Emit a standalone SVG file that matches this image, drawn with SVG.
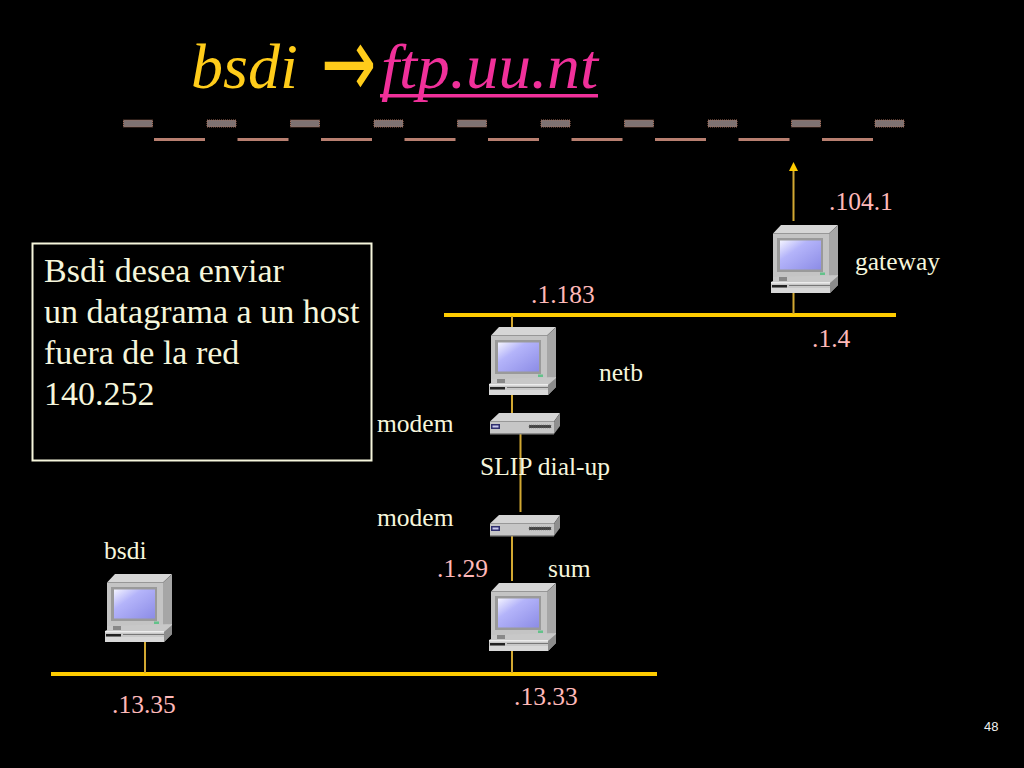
<svg xmlns="http://www.w3.org/2000/svg" xmlns:xlink="http://www.w3.org/1999/xlink" width="1024" height="768" viewBox="0 0 1024 768">
<style>
text{font-family:"Liberation Serif","Times New Roman",serif}
.w{fill:#f6f6dc;font-size:25.500px}
.p{fill:#ffb9b9;font-size:25.500px}
.b{fill:#f6f6dc;font-size:34px}
.net{stroke:#ffcc00;stroke-width:4;fill:none}
.thin{stroke:#d2a832;stroke-width:2;fill:none}
.dg{fill:#7e7272;stroke:#a8705c;stroke-width:1;stroke-dasharray:1 1}
.dl{fill:#b87f70}
</style>
<defs>
<linearGradient id="scr" x1="0" y1="0" x2="1" y2="1"><stop offset="0" stop-color="#f4f4ff"/><stop offset=".35" stop-color="#b4b4fa"/><stop offset="1" stop-color="#8c8ce6"/></linearGradient>
<symbol id="pc" width="68" height="70" overflow="visible">
<polygon points="2,8.5 10,0 67,0 58,8.5" fill="#d6d6d6"/>
<polygon points="58,8.5 67,0 67,50 58,52" fill="#a6a6a6"/>
<rect x="2" y="8.5" width="56" height="44" fill="#c4c4c4"/>
<rect x="6" y="13" width="46" height="34" fill="#9a9a9a"/>
<rect x="9" y="15.500" width="41" height="29" fill="url(#scr)"/>
<rect x="49" y="47.500" width="5" height="2.500" fill="#63c28a"/>
<polygon points="2,52 67,50 67,60 59,68 0,68 0,57 2,56" fill="#c8c8c8"/>
<polygon points="59,58 67,51 67,60 59,68" fill="#8c8c8c"/>
<rect x="0" y="57" width="59" height="1.500" fill="#ececec"/>
<rect x="1" y="60" width="15" height="2.500" fill="#222"/>
<rect x="18" y="60" width="41" height="1" fill="#777"/>
<rect x="0" y="63" width="59" height="5" fill="#d8d8d8"/>
<rect x="8" y="52" width="8" height="4" fill="#888"/>
</symbol>
<symbol id="modem" width="72" height="24" overflow="visible">
<polygon points="1,8.500 10,0 71,0 65,8.500" fill="#d4d4d4"/>
<polygon points="65,8.500 71,0 71,13 65,21" fill="#8f8f8f"/>
<rect x="1" y="8.500" width="64" height="12.500" fill="#c6c6c6"/>
<rect x="1" y="20" width="64" height="1.500" fill="#8a8a8a"/>
<rect x="2" y="11" width="9" height="5" fill="#30306e"/>
<rect x="3.500" y="12.500" width="6" height="2" fill="#c8c8ee"/>
<rect x="40" y="12" width="22" height="3" fill="#444" stroke="#777" stroke-width=".6" stroke-dasharray="1 1"/>
</symbol>
</defs>
<rect width="1024" height="768" fill="#000"/>

<g id="title">
<text x="191" y="88" font-size="64" font-style="italic" fill="#ffcc1a">bsdi</text>
<text transform="translate(321,97) scale(.66,1)" font-size="100" fill="#ffcc1a" style="font-family:'DejaVu Sans',sans-serif">→</text>
<text x="381" y="88" font-size="64" font-style="italic" fill="#f0309a" textLength="217" lengthAdjust="spacingAndGlyphs">ftp.uu.nt</text>
<rect x="380" y="94" width="218" height="3.500" fill="#f0309a"/>
</g>

<g id="wan">
<rect class="dg" x="123.500" y="120" width="29" height="7"/><rect class="dg" x="207" y="120" width="29" height="7"/><rect class="dg" x="290.500" y="120" width="29" height="7"/><rect class="dg" x="374" y="120" width="29" height="7"/><rect class="dg" x="457.500" y="120" width="29" height="7"/><rect class="dg" x="541" y="120" width="29" height="7"/><rect class="dg" x="624.500" y="120" width="29" height="7"/><rect class="dg" x="708" y="120" width="29" height="7"/><rect class="dg" x="791.500" y="120" width="29" height="7"/><rect class="dg" x="875" y="120" width="29" height="7"/>
<rect class="dl" x="154" y="138" width="51" height="3"/><rect class="dl" x="237.500" y="138" width="51" height="3"/><rect class="dl" x="321" y="138" width="51" height="3"/><rect class="dl" x="404.500" y="138" width="51" height="3"/><rect class="dl" x="488" y="138" width="51" height="3"/><rect class="dl" x="571.500" y="138" width="51" height="3"/><rect class="dl" x="655" y="138" width="51" height="3"/><rect class="dl" x="738.500" y="138" width="51" height="3"/><rect class="dl" x="822" y="138" width="51" height="3"/>
</g>

<g id="connectors">
<line class="net" x1="444" y1="315" x2="896" y2="315"/>
<line class="net" x1="51" y1="674" x2="657" y2="674"/>
<line class="thin" x1="793.500" y1="221" x2="793.500" y2="170"/>
<polygon points="793.500,162 789,171 798,171" fill="#ffcc00"/>
<line class="thin" x1="793.500" y1="289" x2="793.500" y2="314"/>
<line class="thin" x1="512" y1="316" x2="512" y2="328"/>
<line class="thin" x1="512" y1="392" x2="512" y2="413"/>
<line class="thin" x1="520.500" y1="434" x2="520.500" y2="512"/>
<line class="thin" x1="512" y1="536" x2="512" y2="581"/>
<line class="thin" x1="512" y1="648" x2="512" y2="673"/>
<line class="thin" x1="145" y1="640" x2="145" y2="673"/>
</g>

<g id="gateway"><use href="#pc" x="771" y="225"/><text class="w" x="855" y="270">gateway</text><text class="p" x="829" y="210">.104.1</text><text class="p" x="812" y="347">.1.4</text></g>
<g id="netb"><use href="#pc" x="489" y="327"/><text class="w" x="599" y="381">netb</text><text class="p" x="531" y="303">.1.183</text></g>
<g id="modem1"><use href="#modem" x="489" y="413"/><text class="w" x="377" y="432">modem</text></g>
<g id="slip"><text class="w" x="480" y="475">SLIP dial-up</text></g>
<g id="modem2"><use href="#modem" x="489" y="515"/><text class="w" x="377" y="526">modem</text></g>
<g id="sum"><use href="#pc" x="489" y="583"/><text class="w" x="548" y="577">sum</text><text class="p" x="437" y="577">.1.29</text><text class="p" x="514" y="705">.13.33</text></g>
<g id="bsdi"><use href="#pc" x="105" y="574"/><text class="w" x="104" y="559">bsdi</text><text class="p" x="112" y="713">.13.35</text></g>

<g id="note">
<rect x="32.500" y="243.500" width="339" height="217" fill="none" stroke="#f6f6dc" stroke-width="2"/>
<text class="b" x="44" y="282">Bsdi desea enviar</text>
<text class="b" x="44" y="323">un datagrama a un host</text>
<text class="b" x="44" y="364">fuera de la red</text>
<text class="b" x="44" y="405">140.252</text>
</g>
<text x="984" y="731" font-size="13" fill="#f0f0f0" style="font-family:'Liberation Sans',sans-serif">48</text>
</svg>
